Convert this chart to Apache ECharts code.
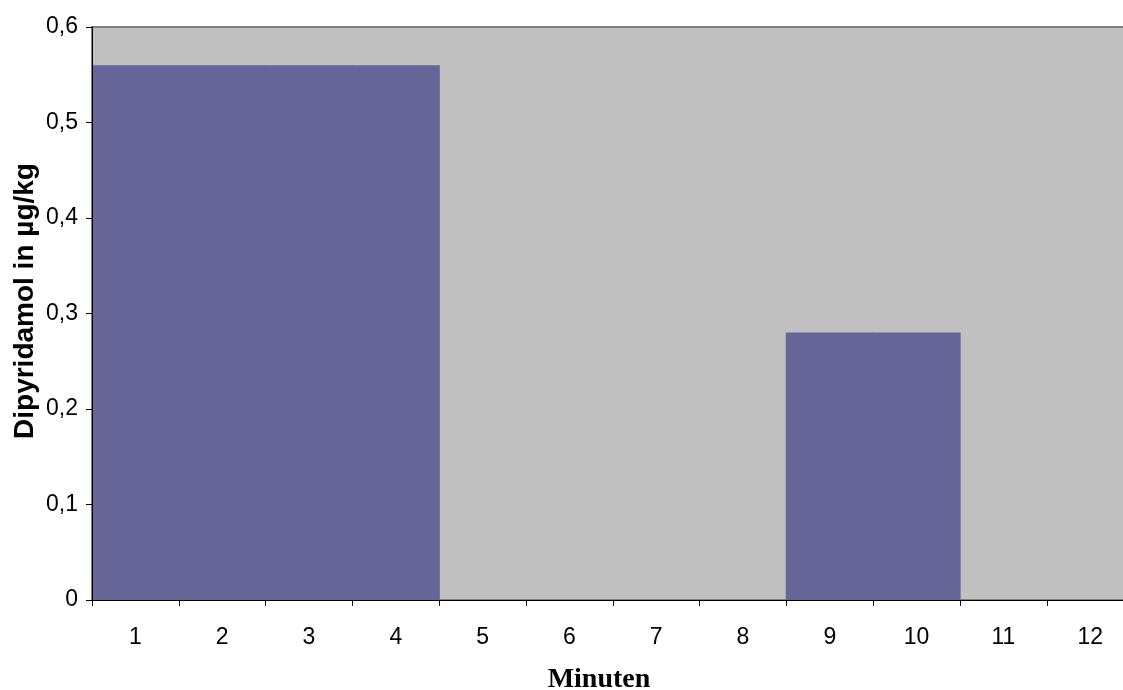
<!DOCTYPE html>
<html>
<head>
<meta charset="utf-8">
<script src="https://cdn.jsdelivr.net/npm/echarts@6/dist/echarts.min.js"></script>
<style>
html,body{margin:0;padding:0;background:#fff;overflow:hidden;width:1123px;height:690px;}
#chart{width:1134px;height:690px;}
</style>
</head>
<body>
<div id="chart"></div>
<script>
const categories = ['1','2','3','4','5','6','7','8','9','10','11','12'];
const values = [0.56, 0.56, 0.56, 0.56, 0, 0, 0, 0, 0.28, 0.28, 0, 0];
const yTicks = [0, 0.1, 0.2, 0.3, 0.4, 0.5, 0.6];
const xTitle = 'Minuten';
const yTitle = 'Dipyridamol in µg/kg';

const chart = echarts.init(document.getElementById('chart'), null, {renderer: 'canvas'});
chart.setOption({
  animation: false,
  backgroundColor: '#ffffff',
  grid: {
    left: 92, top: 27, width: 1041.6, height: 573,
    show: true, backgroundColor: '#C0C0C0', borderColor: '#808080', borderWidth: 2
  },
  xAxis: {
    type: 'category',
    data: categories,
    boundaryGap: true,
    axisLine: {show: true, lineStyle: {color: '#000', width: 1}},
    axisTick: {show: true, length: 6, lineStyle: {color: '#000'}},
    axisLabel: {fontSize: 23, color: '#000', fontFamily: 'Liberation Sans, Arial', margin: 26},
    splitLine: {show: false},
    z: 5
  },
  yAxis: {
    type: 'value',
    min: yTicks[0], max: yTicks[yTicks.length - 1], interval: 0.1,
    axisLine: {show: true, lineStyle: {color: '#000', width: 1}},
    axisTick: {show: true, length: 6, lineStyle: {color: '#000'}},
    axisLabel: {
      fontSize: 23, color: '#000', fontFamily: 'Liberation Sans, Arial', margin: 14,
      formatter: v => (Math.round(v * 10) / 10).toString().replace('.', ',')
    },
    splitLine: {show: false},
    z: 5
  },
  series: [{
    type: 'bar',
    data: values,
    barWidth: '101.5%',
    itemStyle: {color: '#666699'}
  }],
  graphic: [
    {
      type: 'text', x: 599, y: 680,
      style: {text: xTitle, font: 'bold 28px "Liberation Serif", "Times New Roman", serif', fill: '#000', align: 'center', verticalAlign: 'middle'}
    },
    {
      type: 'text', x: 25, y: 301, rotation: Math.PI / 2,
      style: {text: yTitle, font: 'bold 28px "Liberation Sans", Arial, sans-serif', fill: '#000', align: 'center', verticalAlign: 'middle'}
    }
  ]
});
</script>
</body>
</html>
